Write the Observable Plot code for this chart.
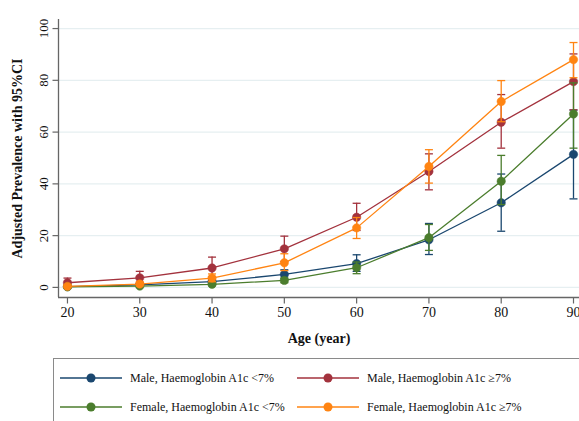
<!DOCTYPE html>
<html>
<head>
<meta charset="utf-8">
<script src="https://cdn.jsdelivr.net/npm/d3@7"></script>
<script src="https://cdn.jsdelivr.net/npm/@observablehq/plot@0.6"></script>
<style>
  html, body { margin: 0; padding: 0; background: #fff; }
  #wrap { position: relative; width: 579px; height: 421px; overflow: hidden; font-family: "Liberation Serif", "Times New Roman", serif; }
  #legend { position: absolute; left: 53px; top: 358px; width: 560px; height: 80px; border: 1px solid #8a8a8a; box-sizing: border-box; }
  .item { position: absolute; display: flex; align-items: center; font-size: 12px; color: #111; white-space: nowrap; }
</style>
</head>
<body>
<div id="wrap"><div id="chart"></div><div id="legend"></div></div>
<script>
const ages = [20, 30, 40, 50, 60, 70, 80, 90];
const seriesNames = [
  "Male, Haemoglobin A1c <7%",
  "Male, Haemoglobin A1c \u22657%",
  "Female, Haemoglobin A1c <7%",
  "Female, Haemoglobin A1c \u22657%"
];
const seriesColors = ["#1a476f", "#a3323d", "#4b7d2d", "#ff8412"];

const maleLow     = [0.3, 1.0, 2.2, 5.0, 9.2, 18.4, 32.7, 51.4];
const maleLowLo   = [0.0, 0.4, 1.3, 3.3, 6.2, 12.7, 21.7, 34.2];
const maleLowHi   = [0.7, 1.6, 3.2, 6.8, 12.6, 24.7, 43.8, 68.5];
const maleHigh    = [1.8, 3.7, 7.5, 14.9, 27.1, 44.8, 63.8, 79.5];
const maleHighLo  = [0.2, 1.5, 4.0, 10.0, 22.0, 37.7, 53.8, 68.6];
const maleHighHi  = [3.6, 6.2, 11.7, 19.8, 32.5, 51.6, 74.5, 90.2];
const femaleLow   = [0.2, 0.5, 1.2, 2.7, 7.6, 19.2, 41.0, 67.0];
const femaleLowLo = [0.0, 0.2, 0.6, 1.8, 5.3, 14.3, 32.0, 53.8];
const femaleLowHi = [0.5, 0.9, 1.8, 3.7, 9.8, 24.3, 51.0, 79.0];
const femaleHigh  = [0.4, 1.3, 3.6, 9.5, 23.0, 46.7, 71.8, 88.0];
const femaleHighLo= [0.0, 0.6, 2.2, 6.5, 18.9, 40.3, 64.0, 81.0];
const femaleHighHi= [1.0, 2.2, 5.2, 13.0, 27.0, 53.2, 79.9, 94.6];

const yTicks = [0, 20, 40, 60, 80, 100];
const xTitle = "Age (year)";
const yTitle = "Adjusted Prevalence with 95%CI";

const seriesData = [
  [maleLow, maleLowLo, maleLowHi],
  [maleHigh, maleHighLo, maleHighHi],
  [femaleLow, femaleLowLo, femaleLowHi],
  [femaleHigh, femaleHighLo, femaleHighHi]
];

const rows = [];
seriesData.forEach(([v, lo, hi], s) => {
  ages.forEach((a, i) => rows.push({age: a, value: v[i], lo: lo[i], hi: hi[i], series: seriesNames[s]}));
});

const hSymbol = {
  draw(context, size) {
    const r = Math.sqrt(size / Math.PI);
    context.moveTo(-r, 0);
    context.lineTo(r, 0);
  }
};
const vSymbol = {
  draw(context, size) {
    const r = Math.sqrt(size / Math.PI);
    context.moveTo(0, -r);
    context.lineTo(0, r);
  }
};

const xDomain = [18.76, 90.83];
const yDomain = [-3.9, 103.5];

const seriesMarks = seriesNames.flatMap((name, s) => {
  const d = rows.filter(r => r.series === name);
  const c = seriesColors[s];
  return [
    Plot.ruleX(d, {x: "age", y1: "lo", y2: "hi", stroke: c, strokeWidth: 1.3}),
    Plot.dot(d, {x: "age", y: "lo", symbol: hSymbol, r: 4, stroke: c, strokeWidth: 1.3}),
    Plot.dot(d, {x: "age", y: "hi", symbol: hSymbol, r: 4, stroke: c, strokeWidth: 1.3}),
    Plot.line(d, {x: "age", y: "value", stroke: c, strokeWidth: 1.3}),
    Plot.dot(d, {x: "age", y: "value", r: 4.2, fill: c, stroke: c, strokeWidth: 0.5})
  ];
});

const chart = Plot.plot({
  width: 579,
  height: 352,
  marginLeft: 58,
  marginRight: 0,
  marginTop: 19,
  marginBottom: 55,
  style: {fontFamily: "'Liberation Serif', 'Times New Roman', serif", background: "#fff", color: "#111"},
  x: {domain: xDomain, axis: null},
  y: {domain: yDomain, axis: null},
  marks: [
    Plot.ruleY(yTicks, {stroke: "#e6eff1", strokeWidth: 1.3}),
    Plot.ruleX([xDomain[0]], {stroke: "#666", strokeWidth: 1.3}),
    Plot.ruleY([yDomain[0]], {stroke: "#666", strokeWidth: 1.3}),
    Plot.dot(yTicks, {x: xDomain[0], y: d => d, symbol: hSymbol, r: 3, dx: -3, stroke: "#666", strokeWidth: 1.2}),
    Plot.text(yTicks, {y: d => d, text: d => String(d), frameAnchor: "left", textAnchor: "middle", dx: -15, rotate: -90, fontSize: 13, fill: "#111"}),
    Plot.dot(ages, {x: d => d, y: yDomain[0], symbol: vSymbol, r: 3, dy: 3, stroke: "#666", strokeWidth: 1.2}),
    Plot.text(ages, {x: d => d, text: d => String(d), frameAnchor: "bottom", dy: 19, fontSize: 14, fill: "#111"}),
    Plot.text([xTitle], {text: d => d, frameAnchor: "bottom", dy: 45, fontSize: 14, fontWeight: "bold", fill: "#111"}),
    Plot.text([yTitle], {text: d => d, frameAnchor: "left", textAnchor: "middle", dx: -41, rotate: -90, fontSize: 14, fontWeight: "bold", fill: "#111"}),
    ...seriesMarks
  ]
});
document.getElementById("chart").appendChild(chart);

// Legend (HTML below the plot)
const legend = document.getElementById("legend");
const pos = [[6, 19], [243, 19], [6, 48], [243, 48]];
seriesNames.forEach((name, s) => {
  const item = document.createElement("div");
  item.className = "item";
  item.style.left = pos[s][0] + "px";
  item.style.top = (pos[s][1] - 10) + "px";
  item.style.height = "20px";
  const ns = "http://www.w3.org/2000/svg";
  const sv = document.createElementNS(ns, "svg");
  sv.setAttribute("width", 70); sv.setAttribute("height", 20);
  const ln = document.createElementNS(ns, "line");
  ln.setAttribute("x1", 0); ln.setAttribute("x2", 62); ln.setAttribute("y1", 10); ln.setAttribute("y2", 10);
  ln.setAttribute("stroke", seriesColors[s]); ln.setAttribute("stroke-width", 1.5);
  const ci = document.createElementNS(ns, "circle");
  ci.setAttribute("cx", 31); ci.setAttribute("cy", 10); ci.setAttribute("r", 4.5);
  ci.setAttribute("fill", seriesColors[s]);
  sv.appendChild(ln); sv.appendChild(ci);
  const tx = document.createElement("span");
  tx.textContent = name;
  item.appendChild(sv); item.appendChild(tx);
  legend.appendChild(item);
});
</script>
</body>
</html>
